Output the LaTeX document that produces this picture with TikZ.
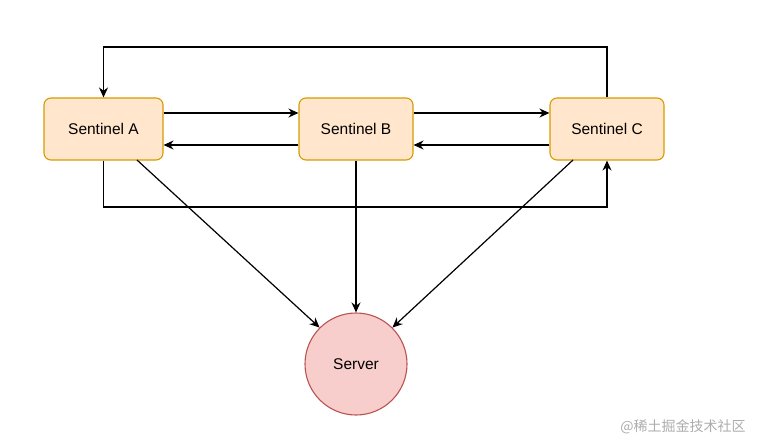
\documentclass[tikz,border=0pt]{standalone}
\usepackage{fontspec}
\setmainfont{Liberation Sans}
\newfontfamily\cjkf{Noto Sans CJK SC}
\usetikzlibrary{arrows.meta}
\definecolor{sfill}{HTML}{FFE6CC}
\definecolor{sdraw}{HTML}{D79B00}
\definecolor{vfill}{HTML}{F8CECC}
\definecolor{vdraw}{HTML}{B85450}
\begin{document}
\begin{tikzpicture}[x=1pt,y=-1pt,
  sent/.style={draw=sdraw,fill=sfill,rounded corners=7pt,minimum width=119pt,minimum height=62pt,font=\fontsize{15.5}{18}\selectfont,line width=1.1pt},
  serv/.style={circle,draw=vdraw,fill=vfill,minimum size=102pt,font=\fontsize{15.5}{18}\selectfont,line width=1.1pt},
  arr/.style={-{Stealth[length=10pt,width=9pt]},line width=1.2pt}]
\useasboundingbox (0,0) rectangle (759,441);
\node[sent] (A) at (103.5,129) {Sentinel A};
\node[sent,minimum width=114pt] (B) at (356,129) {Sentinel B};
\node[sent,minimum width=114pt] (C) at (607,129) {Sentinel C};
\node[serv] (S) at (356,364) {Server};
\draw[arr] (A.east|-0,113) -- (B.west|-0,113);
\draw[arr] (B.west|-0,145) -- (A.east|-0,145);
\draw[arr] (B.east|-0,113) -- (C.west|-0,113);
\draw[arr] (C.west|-0,145) -- (B.east|-0,145);
\draw[arr] (C.north) -- (607,47) -- (103.5,47) -- (A.north);
\draw[arr] (A.south) -- (103.5,207) -- (607,207) -- (C.south);
\draw[arr] (137,160) -- (S.135);
\draw[arr] (B.south) -- (S.north);
\draw[arr] (573,160) -- (S.45);
\node[text=gray!65,font=\cjkf\fontsize{14}{16}\selectfont] (W) at (683,427) {@稀土掘金技术社区};
\end{tikzpicture}
\end{document}
